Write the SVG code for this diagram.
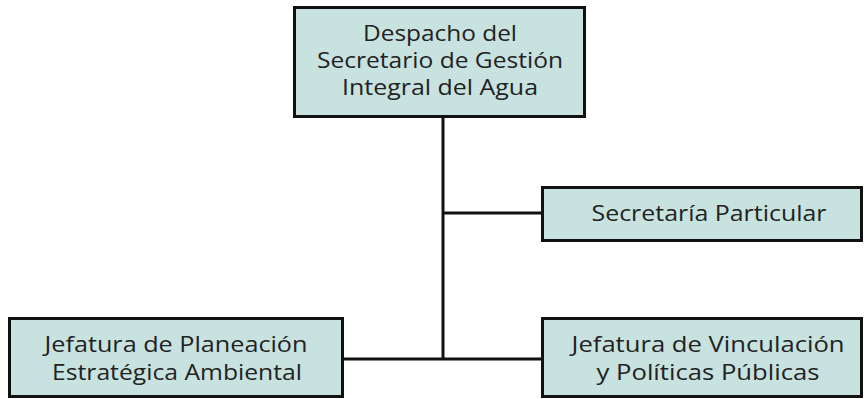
<svg xmlns="http://www.w3.org/2000/svg" width="864" height="399" viewBox="0 0 864 399">
<style>
.box{fill:#c8e2e0;stroke:#111;stroke-width:3}
.t{font-family:"Open Sans","Liberation Sans",sans-serif;font-size:21px;fill:#222;text-anchor:middle}
.c{stroke:#111;stroke-width:3;fill:none}
</style>
<rect width="864" height="399" fill="#fff"/>
<g id="connectors">
<line class="c" x1="443" y1="117" x2="443" y2="359"/>
<line class="c" x1="443" y1="213" x2="542" y2="213"/>
<line class="c" x1="343" y1="359" x2="542" y2="359"/>
</g>
<g id="despacho">
<rect class="box" x="294.5" y="7.5" width="290" height="109"/>
<text class="t" x="440" y="41" textLength="154" lengthAdjust="spacingAndGlyphs">Despacho del</text>
<text class="t" x="440" y="68" textLength="246" lengthAdjust="spacingAndGlyphs">Secretario de Gestión</text>
<text class="t" x="440" y="95" textLength="196" lengthAdjust="spacingAndGlyphs">Integral del Agua</text>
</g>
<g id="secretaria">
<rect class="box" x="542.5" y="187.5" width="319" height="53"/>
<text class="t" x="709" y="221" textLength="235" lengthAdjust="spacingAndGlyphs">Secretaría Particular</text>
</g>
<g id="planeacion">
<rect class="box" x="9.5" y="318.5" width="333" height="78"/>
<text class="t" x="176" y="352" textLength="263" lengthAdjust="spacingAndGlyphs">Jefatura de Planeación</text>
<text class="t" x="177" y="380" textLength="250" lengthAdjust="spacingAndGlyphs">Estratégica Ambiental</text>
</g>
<g id="vinculacion">
<rect class="box" x="542.5" y="318.5" width="319" height="78"/>
<text class="t" x="708" y="352" textLength="273" lengthAdjust="spacingAndGlyphs">Jefatura de Vinculación</text>
<text class="t" x="708" y="380" textLength="223" lengthAdjust="spacingAndGlyphs">y Políticas Públicas</text>
</g>
</svg>
